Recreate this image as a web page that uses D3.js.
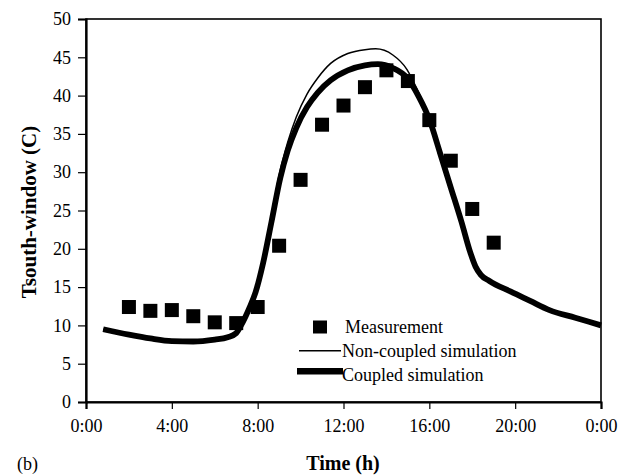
<!DOCTYPE html>
<html>
<head>
<meta charset="utf-8">
<script src="https://cdn.jsdelivr.net/npm/d3@7/dist/d3.min.js"></script>
<style>
  html, body { margin: 0; padding: 0; background: #fff; }
  svg { display: block; }
  text { font-family: "Liberation Serif", "Times New Roman", serif; fill: #000; }
</style>
</head>
<body>
<svg id="chart" width="632" height="476"></svg>
<script>
// Hour of day for the measured points
const measureHours = [2, 3, 4, 5, 6, 7, 8, 9, 10, 11, 12, 13, 14, 15, 16, 17, 18, 19];
// Measured south-window temperature (C)
const measureTemps = [12.4, 11.9, 12.0, 11.2, 10.4, 10.3, 12.4, 20.4, 29.0, 36.2, 38.7, 41.1, 43.3, 41.9, 36.8, 31.5, 25.2, 20.8];

// Non-coupled simulation: hours and temperatures
const nonCoupledHours = [0.8, 2, 3, 4, 5, 6, 6.6, 7.0, 7.3, 7.6, 7.9, 8.25, 8.62, 9.0, 9.4, 9.8, 10.3, 10.8, 11.4, 12.2, 13.0, 13.5, 14.3, 14.96, 15.4, 15.8, 16.2, 16.5, 17.0, 17.5, 17.9, 18.15, 18.4, 18.8, 19.8, 20.7, 21.6, 22.8, 24];
const nonCoupledTemps = [9.5, 8.8, 8.3, 7.95, 7.9, 8.15, 8.45, 9.0, 10.4, 12.2, 14.5, 18.4, 23.8, 29.6, 33.9, 37.2, 40.2, 42.3, 44.2, 45.5, 46.0, 46.1, 45.3, 43.4, 41.0, 38.4, 35.2, 32.5, 28.0, 23.5, 19.6, 17.7, 16.6, 15.8, 14.4, 13.2, 12.0, 11.0, 10.0];

// Coupled simulation: hours and temperatures
const coupledHours = [0.8, 2, 3, 4, 5, 6, 6.6, 7.0, 7.3, 7.6, 7.9, 8.25, 8.65, 9.05, 9.4, 9.8, 10.3, 10.8, 11.4, 12.2, 13.0, 13.6, 14.3, 15.0, 15.5, 16.0, 16.5, 17.0, 17.5, 17.9, 18.15, 18.4, 18.8, 19.8, 20.7, 21.6, 22.8, 24];
const coupledTemps = [9.5, 8.8, 8.3, 7.95, 7.9, 8.15, 8.45, 9.0, 10.4, 12.2, 14.3, 18.1, 23.6, 29.2, 32.8, 35.8, 38.5, 40.4, 42.0, 43.3, 43.95, 44.1, 43.6, 42.2, 39.9, 36.9, 32.5, 28.0, 23.5, 19.6, 17.7, 16.6, 15.8, 14.4, 13.2, 12.0, 11.0, 10.0];

// Axis ticks
const xTickHours = [0, 4, 8, 12, 16, 20, 24];
const xTickLabels = ["0:00", "4:00", "8:00", "12:00", "16:00", "20:00", "0:00"];
const yTickValues = [0, 5, 10, 15, 20, 25, 30, 35, 40, 45, 50];

const legendLabels = ["Measurement", "Non-coupled simulation", "Coupled simulation"];

const svg = d3.select("#chart");
const plot = { left: 86, right: 601, top: 19, bottom: 402 };

const x = d3.scaleLinear().domain([0, 24]).range([plot.left, plot.right]);
const y = d3.scaleLinear().domain([0, 50]).range([plot.bottom, plot.top]);

// Plot frame
svg.append("rect")
  .attr("x", plot.left).attr("y", plot.top)
  .attr("width", plot.right - plot.left).attr("height", plot.bottom - plot.top)
  .attr("fill", "none").attr("stroke", "#000").attr("stroke-width", 1.6);

// Y axis
const yAxis = svg.append("g")
  .attr("transform", `translate(${plot.left},0)`)
  .call(d3.axisLeft(y).tickValues(yTickValues).tickSize(8).tickPadding(7).tickFormat(d3.format("d")));
yAxis.select(".domain").attr("stroke-width", 2.2);
yAxis.selectAll(".tick line").attr("stroke-width", 1.2);
yAxis.selectAll(".tick text").attr("font-size", 18).attr("font-family", "Liberation Serif");

// X axis
const xAxis = svg.append("g")
  .attr("transform", `translate(0,${plot.bottom})`)
  .call(d3.axisBottom(x).tickValues(xTickHours).tickSize(7).tickPadding(10)
    .tickFormat((d, i) => xTickLabels[i]));
xAxis.select(".domain").attr("stroke-width", 2.2);
xAxis.selectAll(".tick line").attr("stroke-width", 1.2);
xAxis.selectAll(".tick text").attr("font-size", 18).attr("font-family", "Liberation Serif");

// Axis titles
svg.append("text")
  .attr("x", (plot.left + plot.right) / 2 - 0.5).attr("y", 470)
  .attr("text-anchor", "middle").attr("font-size", 20).attr("font-weight", "bold")
  .text("Time (h)");

svg.append("text")
  .attr("transform", "translate(36,212) rotate(-90)")
  .attr("text-anchor", "middle").attr("font-size", 21).attr("font-weight", "bold")
  .text("Tsouth-window (C)");

svg.append("text")
  .attr("x", 17).attr("y", 470)
  .attr("font-size", 18)
  .text("(b)");

// Simulation curves
const line = d3.line()
  .x(d => x(d[0]))
  .y(d => y(d[1]))
  .curve(d3.curveMonotoneX);

const nonCoupled = nonCoupledHours.map((h, i) => [h, nonCoupledTemps[i]]);
const coupled = coupledHours.map((h, i) => [h, coupledTemps[i]]);

svg.append("path")
  .datum(nonCoupled)
  .attr("d", line)
  .attr("fill", "none").attr("stroke", "#000").attr("stroke-width", 1.5);

svg.append("path")
  .datum(coupled)
  .attr("d", line)
  .attr("fill", "none").attr("stroke", "#000").attr("stroke-width", 5.8)
  .attr("stroke-linejoin", "round");

// Measurement squares
const sq = 14;
svg.append("g").selectAll("rect")
  .data(measureHours.map((h, i) => [h, measureTemps[i]]))
  .join("rect")
  .attr("x", d => x(d[0]) - sq / 2)
  .attr("y", d => y(d[1]) - sq / 2)
  .attr("width", sq).attr("height", sq)
  .attr("fill", "#000");

// Legend
const legend = svg.append("g");
legend.append("rect")
  .attr("x", 320 - 7).attr("y", 327 - 6.5).attr("width", 14).attr("height", 13).attr("fill", "#000");
legend.append("line")
  .attr("x1", 299).attr("x2", 341).attr("y1", 350.7).attr("y2", 350.7)
  .attr("stroke", "#000").attr("stroke-width", 1.5);
legend.append("line")
  .attr("x1", 297).attr("x2", 343).attr("y1", 371.3).attr("y2", 371.3)
  .attr("stroke", "#000").attr("stroke-width", 6.5);

const legendBaselines = [333, 357, 381];
legend.selectAll("text.leg")
  .data(legendLabels)
  .join("text")
  .attr("class", "leg")
  .attr("x", (d, i) => i === 0 ? 345 : 342)
  .attr("y", (d, i) => legendBaselines[i])
  .attr("font-size", 18)
  .text(d => d);
</script>
</body>
</html>
